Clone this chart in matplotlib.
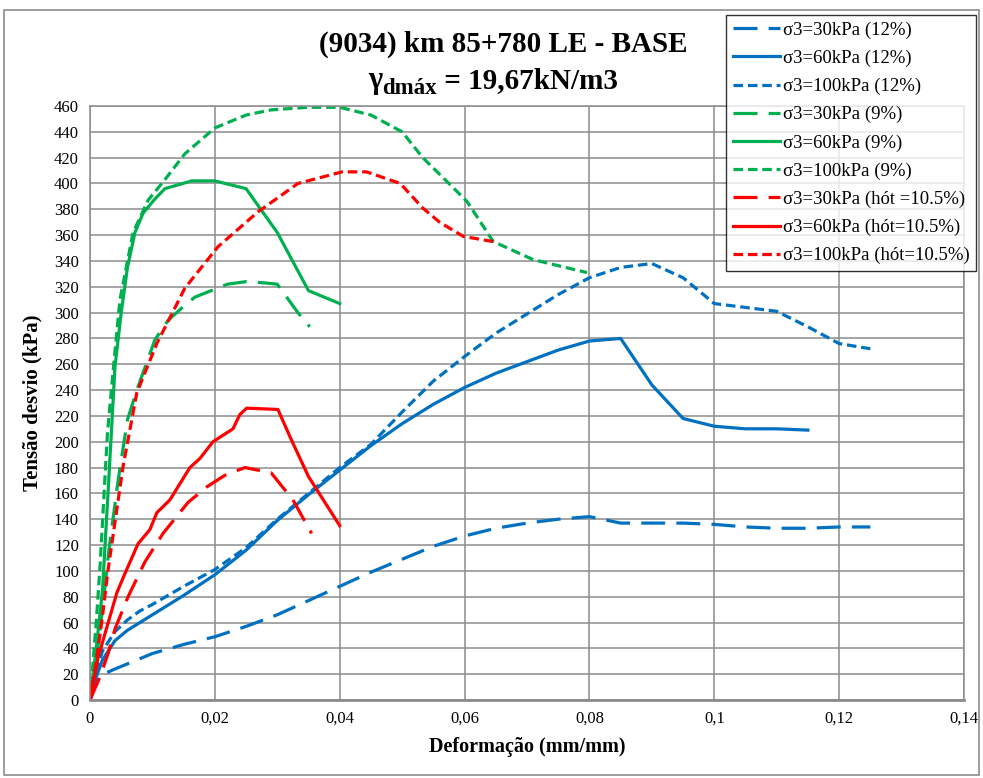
import numpy as np
import matplotlib
matplotlib.use("Agg")
import matplotlib.pyplot as plt
from matplotlib.patches import Rectangle

plt.rcParams['font.family'] = ['Liberation Serif', 'DejaVu Serif']

## data (strain mm/mm, deviator stress kPa)
x_b30 = [0, 0.001, 0.0035, 0.01, 0.015, 0.02, 0.025, 0.03, 0.035, 0.04, 0.045, 0.05, 0.055,
         0.06, 0.065, 0.07, 0.075, 0.08, 0.085, 0.09, 0.095, 0.1, 0.105, 0.11, 0.115, 0.12, 0.125]
y_b30 = [0, 17, 23, 36, 43, 49, 57, 66, 77, 88, 99, 109, 119,
         127, 133, 137, 140, 142, 137, 137, 137, 136, 134, 133, 133, 134, 134]

x_b60 = [0, 0.001, 0.002, 0.004, 0.006, 0.008, 0.01, 0.015, 0.02, 0.025, 0.03, 0.035, 0.04,
         0.045, 0.05, 0.055, 0.06, 0.065, 0.07, 0.075, 0.08, 0.085, 0.09, 0.095, 0.1, 0.105, 0.11, 0.115]
y_b60 = [0, 18, 31, 46, 54, 60, 66, 81, 97, 116, 139, 159, 178,
         197, 214, 229, 242, 253, 262, 271, 278, 280, 244, 218, 212, 210, 210, 209]

x_b100 = [0, 0.001, 0.002, 0.004, 0.006, 0.008, 0.01, 0.015, 0.02, 0.025, 0.03, 0.035, 0.04,
          0.045, 0.05, 0.055, 0.06, 0.065, 0.07, 0.075, 0.08, 0.085, 0.09, 0.095, 0.1, 0.105,
          0.11, 0.115, 0.12, 0.125]
y_b100 = [0, 22, 38, 53, 62, 69, 74, 88, 101, 118, 140, 160, 180,
          198, 223, 247, 266, 284, 299, 314, 327, 335, 338, 327, 307, 304,
          301, 289, 276, 272]

x_g30 = [0, 0.001, 0.002, 0.003, 0.0045, 0.006, 0.0075, 0.0104, 0.0125, 0.0148, 0.0168, 0.022,
         0.025, 0.028, 0.03, 0.0333, 0.0352]
y_g30 = [0, 30, 70, 115, 170, 217, 240, 279, 294, 304, 312, 322,
         324, 323, 322, 300, 289]

x_g60 = [0, 0.001, 0.002, 0.003, 0.004, 0.005, 0.006, 0.0072, 0.0085, 0.0104, 0.012, 0.0163,
         0.02, 0.025, 0.03, 0.035, 0.04]
y_g60 = [0, 40, 85, 170, 258, 300, 335, 362, 377, 388, 396, 402,
         402, 396, 362, 317, 307]

x_g100 = [0, 0.001, 0.0016, 0.0028, 0.004, 0.0048, 0.0069, 0.0093, 0.012, 0.0152, 0.02, 0.025,
          0.029, 0.035, 0.04, 0.045, 0.05, 0.0533, 0.0577, 0.0604, 0.0646, 0.071, 0.0796]
y_g100 = [0, 60, 103, 207, 270, 310, 362, 387, 403, 423, 443, 453,
          457, 459, 459, 453, 440, 420, 399, 386, 355, 341, 331]

x_r30 = [0, 0.0016, 0.0029, 0.004, 0.0061, 0.0088, 0.0117, 0.0157, 0.0187, 0.0216, 0.0248,
         0.029, 0.0325, 0.0355]
y_r30 = [0, 18, 36, 55, 80, 107, 129, 153, 165, 174, 180,
         176, 155, 129]

x_r60 = [0, 0.0013, 0.0043, 0.0056, 0.0077, 0.0096, 0.0107, 0.0128, 0.016, 0.0176, 0.0197,
         0.0229, 0.024, 0.0251, 0.0301, 0.0323, 0.035, 0.04]
y_r60 = [0, 33, 83, 98, 121, 132, 145, 155, 180, 187, 200,
         210, 221, 226, 225, 201, 173, 135]

x_r100 = [0, 0.001, 0.002, 0.0029, 0.0053, 0.0075, 0.0107, 0.0152, 0.0205, 0.0269, 0.0333,
          0.0404, 0.0443, 0.0497, 0.0533, 0.056, 0.0598, 0.0646]
y_r100 = [0, 30, 65, 101, 181, 238, 276, 319, 351, 378, 400,
          409, 409, 400, 381, 370, 359, 355]

labels = ["σ3=30kPa (12%)", "σ3=60kPa (12%)", "σ3=100kPa (12%)",
          "σ3=30kPa (9%)", "σ3=60kPa (9%)", "σ3=100kPa (9%)",
          "σ3=30kPa (hót =10.5%)", "σ3=60kPa (hót=10.5%)", "σ3=100kPa (hót=10.5%)"]

blue, green, red = '#0070C0', '#00B050', '#FF0000'
long_dash = (7.5, 3.5)
short_dash = (3, 1.5)
lw = 2.3

W, H = 983, 778
fig = plt.figure(figsize=(W/100, H/100), dpi=100)
ax = fig.add_axes([90/W, 1 - 700/H, (964-90)/W, (700-106)/H])

series = [
    (x_b30, y_b30, blue, long_dash), (x_b60, y_b60, blue, None), (x_b100, y_b100, blue, short_dash),
    (x_g30, y_g30, green, long_dash), (x_g60, y_g60, green, None), (x_g100, y_g100, green, short_dash),
    (x_r30, y_r30, red, long_dash), (x_r60, y_r60, red, None), (x_r100, y_r100, red, short_dash),
]
handles = []
for (xs, ys, c, d), lab in zip(series, labels):
    ln, = ax.plot(xs, ys, color=c, lw=lw, label=lab, solid_joinstyle='round')
    if d is not None:
        ln.set_dashes(d)
    handles.append(ln)

ax.set_xlim(0, 0.14)
ax.set_ylim(0, 460)
ax.set_xticks(np.arange(0, 0.141, 0.02))
ax.set_xticklabels(['0', '0,02', '0,04', '0,06', '0,08', '0,1', '0,12', '0,14'])
ax.set_yticks(np.arange(0, 461, 20))
ax.grid(True, color='#8c8c8c', lw=1.1)
ax.set_axisbelow(True)
for s in ax.spines.values():
    s.set_color('#8c8c8c')
    s.set_linewidth(1.1)
ax.spines['bottom'].set_linewidth(2)
ax.tick_params(length=0, labelsize=12, pad=8)

ax.set_xlabel('Deformação (mm/mm)', fontsize=14.5, fontweight='bold', labelpad=7)
ax.set_ylabel('Tensão desvio (kPa)', fontsize=15, fontweight='bold', labelpad=8)

fig.text(503/W, 1 - 44/H, '(9034) km 85+780 LE - BASE', ha='center', va='center',
         fontsize=21, fontweight='bold')

# second title line: gamma with a subscript, laid out piece by piece
renderer = fig.canvas.get_renderer()
base = 88
pieces = [('γ', 22, 0), ('dmáx', 16.5, 6), (' = 19,67kN/m3', 21, 0)]
texts = []
for s, fs, dy in pieces:
    t = fig.text(0, 1 - (base + dy)/H, s, fontsize=fs, fontweight='bold', va='baseline', ha='left')
    texts.append(t)
widths = [t.get_window_extent(renderer).width for t in texts]
x0 = 493 - sum(widths)/2
for t, w in zip(texts, widths):
    t.set_x(x0/W)
    x0 += w

leg = fig.legend(handles=handles, loc='upper right', bbox_to_anchor=(976/W, 1 - 15/H),
                 fontsize=13.5, frameon=True, fancybox=False, handlelength=2.5,
                 handletextpad=0.15, labelspacing=0.58, borderpad=0.35, borderaxespad=0)
leg.get_frame().set_edgecolor('black')
leg.get_frame().set_linewidth(1)

fig.patches.append(Rectangle((4/W, 3/H), 975/W, 1 - 13/H, transform=fig.transFigure,
                             fill=False, edgecolor='#8c8c8c', lw=1.2))

fig.savefig('out.png', dpi=100)
